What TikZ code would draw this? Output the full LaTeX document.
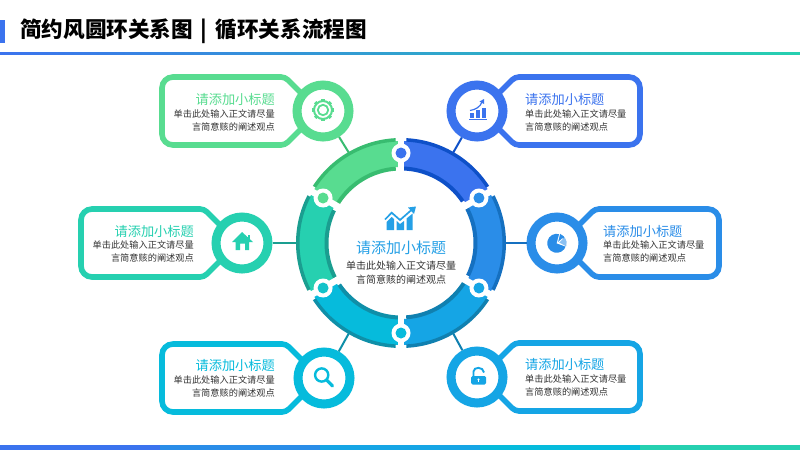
\documentclass[tikz,border=0pt]{standalone}
\usepackage{fontspec}
\setmainfont{Noto Sans CJK SC}
\usetikzlibrary{arrows.meta}
\definecolor{cA}{HTML}{3B73EE}\definecolor{dA}{HTML}{0E50C8}
\definecolor{cB}{HTML}{2A8DE8}\definecolor{dB}{HTML}{1570C0}
\definecolor{cC}{HTML}{15A5E5}\definecolor{dC}{HTML}{1080B0}
\definecolor{cD}{HTML}{06BBDC}\definecolor{dD}{HTML}{0F8FA8}
\definecolor{cE}{HTML}{26D0B0}\definecolor{dE}{HTML}{1A9E90}
\definecolor{cF}{HTML}{58DC90}\definecolor{dF}{HTML}{38BC70}
\definecolor{cG}{HTML}{25A0E6}\definecolor{txt}{HTML}{333333}
\tikzset{
 ttl/.style={inner sep=0,font=\fontsize{13.2pt}{14pt}\selectfont},
 bdy/.style={inner sep=0,text=txt,font=\fontsize{9.2pt}{10pt}\selectfont},
 hub/.style={circle,line width=9pt,minimum size=52pt,inner sep=0,fill=white},
 link/.style={line width=2pt},
 outline/.style={line width=5.6pt,fill=white}
}
% name cx cy dir farx colour dark
\newcommand{\callout}[7]{%
 \draw[outline,draw=#6] ({#2-#4*16},{#3-12}) [rounded corners=4pt] -- ({#2-#4*38},{#3-34}) [rounded corners=11pt] -- (#5,{#3-34}) -- (#5,{#3+34}) [rounded corners=4pt] -- ({#2-#4*38},{#3+34}) -- ({#2-#4*16},{#3+12});
 \node[hub,draw=#6] (#1) at (#2,#3) {};
 \draw[link,draw=#7] (#1) -- (r#1);
}
\newcommand{\segm}[4]{% a b col dark (angles a>b clockwise)
 \fill[#3] (#1:102pt) arc[start angle=#1,end angle=#2,radius=102pt] -- (#2:76pt) arc[start angle=#2,end angle=#1,radius=76pt] -- cycle;
 \fill[#4] ({#1-3}:101.5pt) arc[start angle={#1-3},end angle={#2+3},radius=101.5pt] -- ({#2+3}:105pt) arc[start angle={#2+3},end angle={#1-3},radius=105pt] -- cycle;
 \fill[#4] ({#1-1}:76.5pt) arc[start angle={#1-1},end angle={#2+4},radius=76.5pt] -- ({#2+4}:72.5pt) arc[start angle={#2+4},end angle={#1-1},radius=72.5pt] -- cycle;
}
\newcommand{\joint}[2]{%
 \draw[white,line width=6.5pt] (#1:62pt) -- (#1:112pt);
 \fill[white] (#1:90pt) circle[radius=9.5pt];
 \fill[#2] (#1:90pt) circle[radius=5.5pt];
}
\begin{document}
\begin{tikzpicture}[x=1pt,y=-1pt]
\useasboundingbox (0,0) rectangle (800,450);
\fill[white] (0,0) rectangle (800,450);
% header
\fill[cA] (0,20) rectangle (5,43);
\node[anchor=west,inner sep=0,font=\fontsize{21.6pt}{23pt}\selectfont\bfseries] (head) at (20,31) {简约风圆环关系图\hspace{8pt}|\hspace{8pt}循环关系流程图};
\shade[left color=cA,middle color=cC,right color=cE] (0,52) rectangle (800,54);
% footer
\fill[cA] (0,445) rectangle (160,450);
\fill[cB] (160,445) rectangle (320,450);
\fill[cC] (320,445) rectangle (480,450);
\fill[cD] (480,445) rectangle (640,450);
\fill[cE] (640,445) rectangle (800,450);
% ring anchor points
\begin{scope}[shift={(401,243)},y=1pt]
 \coordinate (rtl) at (120:104pt);
 \coordinate (rtr) at (60:104pt);
 \coordinate (rl) at (180:104pt);
 \coordinate (rr) at (0:104pt);
 \coordinate (rbl) at (240:104pt);
 \coordinate (rbr) at (300:104pt);
\end{scope}
% callouts
\callout{tl}{323}{111}{1}{162}{cF}{dF}
\callout{tr}{477}{111}{-1}{640}{cA}{dA}
\callout{l}{242}{243}{1}{81}{cE}{dE}
\callout{r}{557}{243}{-1}{719}{cB}{dB}
\callout{bl}{324}{378}{1}{162}{cD}{dD}
\callout{br}{477}{377}{-1}{640}{cC}{dC}
% ring
\begin{scope}[shift={(401,243)},y=1pt]
 \segm{90}{30}{cA}{dA}
 \segm{30}{-30}{cB}{dB}
 \segm{-30}{-90}{cC}{dC}
 \segm{-90}{-150}{cD}{dD}
 \segm{-150}{-210}{cE}{dE}
 \segm{-210}{-270}{cF}{dF}
 \joint{90}{cA}
 \joint{30}{cB}
 \joint{-30}{cC}
 \joint{-90}{cD}
 \joint{-150}{cD!60!cE}
 \joint{150}{cF}
\end{scope}
% centre text
\node[ttl,text=cG,font=\fontsize{15pt}{16pt}\selectfont] (ct) at (401,248) {请添加小标题};
\node[bdy,font=\fontsize{10pt}{11pt}\selectfont] (c1) at (401,266) {单击此处输入正文请尽量};
\node[bdy,font=\fontsize{10pt}{11pt}\selectfont] (c2) at (401,280) {言简意赅的阐述观点};
% centre icon
\begin{scope}[cG]
 \fill (386.7,230) -- (386.7,222) -- (391.7,217) -- (394,219) -- (394,230) -- cycle;
 \fill (396.7,230) -- (396.7,221) -- (400,224) -- (404,221) -- (404,230) -- cycle;
 \fill (406.5,230) -- (406.5,218.5) -- (412.7,213.5) -- (412.7,230) -- cycle;
 \draw[line width=1.7pt] (385,219.5) -- (391.7,212.7) -- (400,220) -- (412,209.5);
 \fill (416,206.5) -- (408,207.5) -- (414,214) -- cycle;
\end{scope}
% texts
\node[ttl,text=cF,anchor=east] at (275,99) {请添加小标题};
\node[bdy,anchor=east] at (275,114) {单击此处输入正文请尽量};
\node[bdy,anchor=east] at (275,127) {言简意赅的阐述观点};
\node[ttl,text=cA,anchor=west] at (525,99) {请添加小标题};
\node[bdy,anchor=west] at (525,114) {单击此处输入正文请尽量};
\node[bdy,anchor=west] at (525,127) {言简意赅的阐述观点};
\node[ttl,text=cE,anchor=east] at (194,231) {请添加小标题};
\node[bdy,anchor=east] at (194,245) {单击此处输入正文请尽量};
\node[bdy,anchor=east] at (194,258) {言简意赅的阐述观点};
\node[ttl,text=cB,anchor=west] at (603,231) {请添加小标题};
\node[bdy,anchor=west] at (603,245) {单击此处输入正文请尽量};
\node[bdy,anchor=west] at (603,258) {言简意赅的阐述观点};
\node[ttl,text=cD,anchor=east] at (275,365) {请添加小标题};
\node[bdy,anchor=east] at (275,380) {单击此处输入正文请尽量};
\node[bdy,anchor=east] at (275,393) {言简意赅的阐述观点};
\node[ttl,text=cC,anchor=west] at (525,364) {请添加小标题};
\node[bdy,anchor=west] at (525,379) {单击此处输入正文请尽量};
\node[bdy,anchor=west] at (525,392) {言简意赅的阐述观点};
% gear icon
\begin{scope}[shift={(323,110)},y=1pt]
 \foreach \a in {0,45,...,315} {\fill[cF,rotate=\a] (-1.7,8) rectangle (1.7,11);}
 \draw[cF,line width=2pt] (0,0) circle[radius=9pt];
 \draw[cF,line width=1.8pt] (0,0) circle[radius=5.2pt];
\end{scope}
% growth chart icon
\begin{scope}[cA]
 \fill (469.5,118) rectangle (474,113.3);
 \fill (475.5,118) rectangle (480,110);
 \fill (481.5,118) rectangle (486,107.7);
 \fill (469,118.8) rectangle (487,120);
 \draw[line width=1.2pt] (470,110.5) .. controls (476,109.5) and (480,107) .. (482,102);
 \fill (484,99) -- (479.5,101.5) -- (484,104) -- cycle;
\end{scope}
% house icon
\begin{scope}[cE]
 \fill (250,235) rectangle (247.5,239);
 \fill (242,232) -- (232,242) -- (235.5,242) -- (235.5,250) -- (240,250) -- (240,243.5) -- (245,243.5) -- (245,250) -- (249,250) -- (249,242) -- (253,242) -- cycle;
\end{scope}
% pie icon
\begin{scope}[shift={(556.7,243.3)},y=1pt]
 \fill[cB] (0,0) -- (75:9.5pt) arc[start angle=75,end angle=-325,radius=9.5pt] -- cycle;
 \fill[white] (0,0) -- (75:11pt) -- (-20:11pt) -- cycle;
 \fill[cB] (1.5,1.5) -- (70:10pt) arc[start angle=70,end angle=42,radius=10pt] -- cycle;
 \fill[cB!55] (2.6,0.8) -- (38:10pt) arc[start angle=38,end angle=-18,radius=10pt] -- cycle;
\end{scope}
% magnifier icon
\begin{scope}[cD]
 \draw[line width=2.4pt] (321.7,375) circle[radius=6.6pt];
 \draw[line width=3.2pt,line cap=round] (326.8,380.2) -- (332.5,386);
\end{scope}
% lock icon
\begin{scope}[cC]
 \draw[line width=1.9pt] (473.5,377) -- (473.5,371.5) .. controls (473.5,366.5) and (483.5,366.5) .. (484,372.5);
 \fill[rounded corners=1.5pt] (471,376) rectangle (486,384.5);
 \fill[white] (478.5,379.5) circle[radius=1.2pt];
 \fill[white] (478,380) rectangle (479,382);
\end{scope}
\end{tikzpicture}
\end{document}
